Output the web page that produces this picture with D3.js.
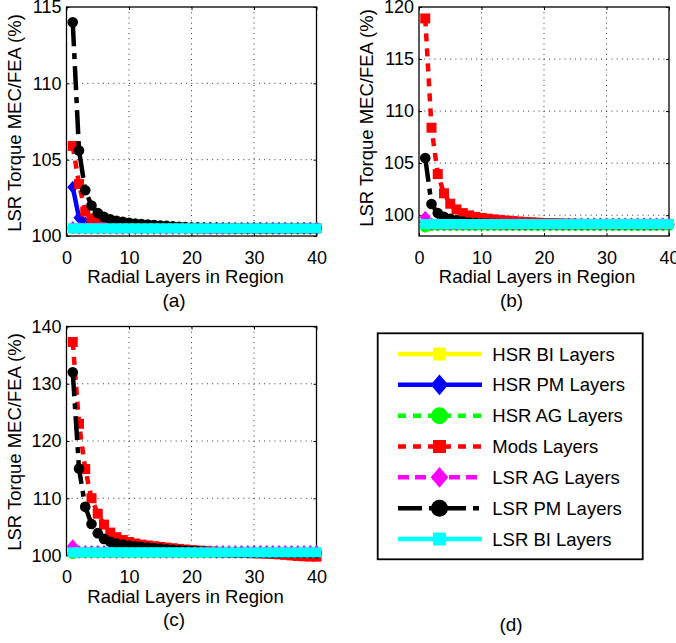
<!DOCTYPE html>
<html>
<head>
<meta charset="utf-8">
<script src="https://cdn.jsdelivr.net/npm/d3@7"></script>
<style>
  body { margin: 0; background: #fff; }
  text { font-family: "Liberation Sans", Arial, Helvetica, sans-serif; }
</style>
</head>
<body>
<div id="chart"></div>
<script>
// ---- data ----
const layers = [1, 2, 3, 4, 5, 6, 7, 8, 9, 10, 11, 12, 13, 14, 15, 16, 17, 18, 19, 20,
  21, 22, 23, 24, 25, 26, 27, 28, 29, 30, 31, 32, 33, 34, 35, 36, 37, 38, 39, 40];

const seriesNames = ['HSR BI Layers', 'HSR PM Layers', 'HSR AG Layers', 'Mods Layers',
  'LSR AG Layers', 'LSR PM Layers', 'LSR BI Layers'];

const xTicks = [0, 10, 20, 30, 40];
const yTicksA = [100, 105, 110, 115];
const yTicksB = [100, 105, 110, 115, 120];
const yTicksC = [100, 110, 120, 130, 140];

// panel (a)
const hsrBiA = [100.5, 100.5, 100.5, 100.5, 100.5, 100.5, 100.5, 100.5, 100.5, 100.5,
  100.5, 100.5, 100.5, 100.5, 100.5, 100.5, 100.5, 100.5, 100.5, 100.5,
  100.5, 100.5, 100.5, 100.5, 100.5, 100.5, 100.5, 100.5, 100.5, 100.5,
  100.5, 100.5, 100.5, 100.5, 100.5, 100.5, 100.5, 100.5, 100.5, 100.5];
const hsrPmA = [103.2, 101.2, 100.85, 100.7, 100.63, 100.59, 100.57, 100.55, 100.53, 100.52,
  100.51, 100.5, 100.5, 100.5, 100.5, 100.5, 100.5, 100.5, 100.5, 100.5,
  100.5, 100.5, 100.5, 100.5, 100.5, 100.5, 100.5, 100.5, 100.5, 100.5,
  100.5, 100.5, 100.5, 100.5, 100.5, 100.5, 100.5, 100.5, 100.5, 100.5];
const hsrAgA = [100.5, 100.5, 100.5, 100.5, 100.5, 100.5, 100.5, 100.5, 100.5, 100.5,
  100.5, 100.5, 100.5, 100.5, 100.5, 100.5, 100.5, 100.5, 100.5, 100.5,
  100.5, 100.5, 100.5, 100.5, 100.5, 100.5, 100.5, 100.5, 100.5, 100.5,
  100.5, 100.5, 100.5, 100.5, 100.5, 100.5, 100.5, 100.5, 100.5, 100.5];
const modsA = [105.9, 103.4, 101.6, 101.15, 100.95, 100.85, 100.78, 100.73, 100.69, 100.66,
  100.63, 100.61, 100.59, 100.58, 100.57, 100.56, 100.55, 100.54, 100.53, 100.52,
  100.51, 100.5, 100.5, 100.5, 100.5, 100.5, 100.5, 100.5, 100.5, 100.5,
  100.5, 100.5, 100.5, 100.5, 100.5, 100.5, 100.5, 100.5, 100.5, 100.5];
const lsrAgA = [100.55, 100.5, 100.5, 100.5, 100.5, 100.5, 100.5, 100.5, 100.5, 100.5,
  100.5, 100.5, 100.5, 100.5, 100.5, 100.5, 100.5, 100.5, 100.5, 100.5,
  100.5, 100.5, 100.5, 100.5, 100.5, 100.5, 100.5, 100.5, 100.5, 100.5,
  100.5, 100.5, 100.5, 100.5, 100.5, 100.5, 100.5, 100.5, 100.5, 100.5];
const lsrPmA = [114.0, 105.6, 103.0, 102.0, 101.5, 101.25, 101.1, 101.0, 100.93, 100.87,
  100.82, 100.78, 100.75, 100.72, 100.69, 100.66, 100.63, 100.6, 100.58, 100.56,
  100.55, 100.54, 100.53, 100.53, 100.52, 100.52, 100.51, 100.51, 100.5, 100.5,
  100.5, 100.5, 100.5, 100.5, 100.5, 100.5, 100.5, 100.5, 100.5, 100.5];
const lsrBiA = [100.5, 100.5, 100.5, 100.5, 100.5, 100.5, 100.5, 100.5, 100.5, 100.5,
  100.5, 100.5, 100.5, 100.5, 100.5, 100.5, 100.5, 100.5, 100.5, 100.5,
  100.5, 100.5, 100.5, 100.5, 100.5, 100.5, 100.5, 100.5, 100.5, 100.5,
  100.5, 100.5, 100.5, 100.5, 100.5, 100.5, 100.5, 100.5, 100.5, 100.5];

// panel (b)
const hsrBiB = [99.15, 99.15, 99.15, 99.15, 99.15, 99.15, 99.15, 99.15, 99.15, 99.15,
  99.15, 99.15, 99.15, 99.15, 99.15, 99.15, 99.15, 99.15, 99.15, 99.15,
  99.15, 99.15, 99.15, 99.15, 99.15, 99.15, 99.15, 99.15, 99.15, 99.15,
  99.15, 99.15, 99.15, 99.15, 99.15, 99.15, 99.15, 99.15, 99.15, 99.15];
const hsrPmB = [99.35, 99.1, 99.1, 99.1, 99.1, 99.1, 99.1, 99.1, 99.1, 99.1,
  99.1, 99.1, 99.1, 99.1, 99.1, 99.1, 99.1, 99.1, 99.1, 99.1,
  99.1, 99.1, 99.1, 99.1, 99.1, 99.1, 99.1, 99.1, 99.1, 99.1,
  99.1, 99.1, 99.1, 99.1, 99.1, 99.1, 99.1, 99.1, 99.1, 99.1];
const hsrAgB = [98.85, 99.0, 99.0, 99.0, 99.0, 99.0, 99.0, 99.0, 99.0, 99.0,
  99.0, 99.0, 99.0, 99.0, 99.0, 99.0, 99.0, 99.0, 99.0, 99.0,
  99.0, 99.0, 99.0, 99.0, 99.0, 99.0, 99.0, 99.0, 99.0, 99.0,
  99.0, 99.0, 99.0, 99.0, 99.0, 99.0, 99.0, 99.0, 99.0, 99.0];
const modsB = [118.9, 108.4, 103.95, 102.1, 101.1, 100.55, 100.2, 99.98, 99.84, 99.74,
  99.66, 99.59, 99.53, 99.48, 99.43, 99.39, 99.35, 99.31, 99.28, 99.25,
  99.23, 99.21, 99.19, 99.18, 99.17, 99.16, 99.15, 99.15, 99.15, 99.15,
  99.15, 99.15, 99.15, 99.15, 99.15, 99.15, 99.15, 99.15, 99.15, 99.15];
const lsrAgB = [99.8, 99.15, 99.15, 99.15, 99.15, 99.15, 99.15, 99.15, 99.15, 99.15,
  99.15, 99.15, 99.15, 99.15, 99.15, 99.15, 99.15, 99.15, 99.15, 99.15,
  99.15, 99.15, 99.15, 99.15, 99.15, 99.15, 99.15, 99.15, 99.15, 99.15,
  99.15, 99.15, 99.15, 99.15, 99.15, 99.15, 99.15, 99.15, 99.15, 99.15];
const lsrPmB = [105.5, 101.07, 100.2, 99.85, 99.65, 99.5, 99.38, 99.3, 99.25, 99.22,
  99.2, 99.18, 99.17, 99.16, 99.15, 99.15, 99.15, 99.15, 99.15, 99.15,
  99.15, 99.15, 99.15, 99.15, 99.15, 99.15, 99.15, 99.15, 99.15, 99.15,
  99.15, 99.15, 99.15, 99.15, 99.15, 99.15, 99.15, 99.15, 99.15, 99.15];
const lsrBiB = [99.15, 99.15, 99.15, 99.15, 99.15, 99.15, 99.15, 99.15, 99.15, 99.15,
  99.15, 99.15, 99.15, 99.15, 99.15, 99.15, 99.15, 99.15, 99.15, 99.15,
  99.15, 99.15, 99.15, 99.15, 99.15, 99.15, 99.15, 99.15, 99.15, 99.15,
  99.15, 99.15, 99.15, 99.15, 99.15, 99.15, 99.15, 99.15, 99.15, 99.15];

// panel (c)
const hsrBiC = [100.55, 100.55, 100.55, 100.55, 100.55, 100.55, 100.55, 100.55, 100.55, 100.55,
  100.55, 100.55, 100.55, 100.55, 100.55, 100.55, 100.55, 100.55, 100.55, 100.55,
  100.55, 100.55, 100.55, 100.55, 100.55, 100.55, 100.55, 100.55, 100.55, 100.55,
  100.55, 100.55, 100.55, 100.55, 100.55, 100.55, 100.55, 100.55, 100.55, 100.55];
const hsrPmC = [101.5, 100.55, 100.55, 100.55, 100.55, 100.55, 100.55, 100.55, 100.55, 100.55,
  100.55, 100.55, 100.55, 100.55, 100.55, 100.55, 100.55, 100.55, 100.55, 100.55,
  100.55, 100.55, 100.55, 100.55, 100.55, 100.55, 100.55, 100.55, 100.55, 100.55,
  100.55, 100.55, 100.55, 100.55, 100.55, 100.55, 100.55, 100.55, 100.55, 100.55];
const hsrAgC = [100.3, 100.5, 100.5, 100.5, 100.5, 100.5, 100.5, 100.5, 100.5, 100.5,
  100.5, 100.5, 100.5, 100.5, 100.5, 100.5, 100.5, 100.5, 100.5, 100.5,
  100.5, 100.5, 100.5, 100.5, 100.5, 100.5, 100.5, 100.5, 100.5, 100.5,
  100.5, 100.5, 100.5, 100.5, 100.5, 100.5, 100.5, 100.5, 100.5, 100.5];
const modsC = [137.3, 123.0, 115.1, 110.0, 107.3, 105.4, 104.0, 103.2, 102.7, 102.35,
  102.1, 101.9, 101.75, 101.62, 101.5, 101.38, 101.26, 101.15, 101.05, 100.95,
  100.86, 100.78, 100.7, 100.64, 100.58, 100.53, 100.49, 100.45, 100.42, 100.39,
  100.36, 100.32, 100.27, 100.2, 100.12, 100.02, 99.92, 99.86, 99.82, 99.8];
const lsrAgC = [101.7, 100.7, 100.7, 100.7, 100.7, 100.7, 100.7, 100.7, 100.7, 100.7,
  100.7, 100.7, 100.7, 100.7, 100.7, 100.7, 100.7, 100.7, 100.7, 100.7,
  100.7, 100.7, 100.7, 100.7, 100.7, 100.7, 100.7, 100.7, 100.7, 100.7,
  100.7, 100.7, 100.7, 100.7, 100.7, 100.7, 100.7, 100.7, 100.7, 100.7];
const lsrPmC = [132.0, 115.2, 108.5, 105.5, 103.9, 102.9, 102.4, 102.1, 101.9, 101.75,
  101.62, 101.5, 101.4, 101.3, 101.2, 101.1, 101.0, 100.92, 100.85, 100.78,
  100.72, 100.67, 100.62, 100.58, 100.55, 100.53, 100.51, 100.5, 100.49, 100.48,
  100.47, 100.46, 100.45, 100.45, 100.44, 100.44, 100.43, 100.43, 100.42, 100.42];
const lsrBiC = [100.55, 100.55, 100.55, 100.55, 100.55, 100.55, 100.55, 100.55, 100.55, 100.55,
  100.55, 100.55, 100.55, 100.55, 100.55, 100.55, 100.55, 100.55, 100.55, 100.55,
  100.55, 100.55, 100.55, 100.55, 100.55, 100.55, 100.55, 100.55, 100.55, 100.55,
  100.55, 100.55, 100.55, 100.55, 100.55, 100.55, 100.55, 100.55, 100.55, 100.55];

// ---- styles ----
const styles = {
  'HSR BI Layers': { color: '#ffff00', dash: null, marker: 'square' },
  'HSR PM Layers': { color: '#0000ff', dash: null, marker: 'diamond' },
  'HSR AG Layers': { color: '#00ff00', dash: '8,7', marker: 'circle' },
  'Mods Layers': { color: '#ff0000', dash: '8,7', marker: 'square' },
  'LSR AG Layers': { color: '#ff00ff', dash: '11,6', marker: 'diamond' },
  'LSR PM Layers': { color: '#000000', dash: '24,7,6,7', marker: 'circle' },
  'LSR BI Layers': { color: '#00ffff', dash: null, marker: 'square' }
};

const fontSans = '"Liberation Sans", Arial, Helvetica, sans-serif';
const fontSerif = '"Liberation Serif", "Times New Roman", serif';

function markerPath(type, s) {
  if (type === 'square') {
    const h = s / 2;
    return `M${-h},${-h}h${s}v${s}h${-s}Z`;
  }
  if (type === 'diamond') {
    const w = s * 0.55, h = s * 0.65;
    return `M0,${-h}L${w},0L0,${h}L${-w},0Z`;
  }
  const r = s * 0.53;
  return `M${r},0A${r},${r} 0 1,1 ${-r},0A${r},${r} 0 1,1 ${r},0Z`;
}

const width = 676, height = 643;
const svg = d3.select('#chart').append('svg')
  .attr('width', width)
  .attr('height', height);
svg.append('rect').attr('width', width).attr('height', height).attr('fill', '#fff');

const panels = [
  {
    left: 66.5, right: 316.5, top: 7, bottom: 236,
    yDomain: [100, 115], yTicks: yTicksA,
    series: [hsrBiA, hsrPmA, hsrAgA, modsA, lsrAgA, lsrPmA, lsrBiA],
    yTitle: [21, 123], xTitle: [185.5, 283], caption: ['(a)', 174, 307]
  },
  {
    left: 419, right: 669, top: 7, bottom: 236,
    yDomain: [98, 120], yTicks: yTicksB,
    series: [hsrBiB, hsrPmB, hsrAgB, modsB, lsrAgB, lsrPmB, lsrBiB],
    yTitle: [373, 118], xTitle: [537, 283], caption: ['(b)', 511.5, 307]
  },
  {
    left: 66.5, right: 316.5, top: 326.5, bottom: 555.5,
    yDomain: [100, 140], yTicks: yTicksC,
    series: [hsrBiC, hsrPmC, hsrAgC, modsC, lsrAgC, lsrPmC, lsrBiC],
    yTitle: [21, 442], xTitle: [185.5, 603], caption: ['(c)', 174, 626]
  }
];

panels.forEach(p => drawPanel(p));

function drawPanel(p) {
  const x = d3.scaleLinear().domain([0, 40]).range([p.left, p.right]);
  const y = d3.scaleLinear().domain(p.yDomain).range([p.bottom, p.top]);
  const g = svg.append('g');

  // dotted grid
  const grid = g.append('g')
    .attr('stroke', '#333')
    .attr('stroke-width', 1)
    .attr('stroke-dasharray', '1,4.2');
  xTicks.filter(t => t > 0 && t < 40).forEach(t => {
    grid.append('line')
      .attr('x1', x(t)).attr('x2', x(t))
      .attr('y1', p.top).attr('y2', p.bottom);
  });
  p.yTicks.filter(t => y(t) > p.top + 1 && y(t) < p.bottom - 1).forEach(t => {
    grid.append('line')
      .attr('x1', p.left).attr('x2', p.right)
      .attr('y1', y(t)).attr('y2', y(t));
  });

  // axes with inward ticks
  const bottomAxis = g.append('g')
    .attr('transform', `translate(0,${p.bottom})`)
    .call(d3.axisBottom(x).tickValues(xTicks).tickSize(-3).tickPadding(15).tickFormat(d3.format('d')));
  const leftAxis = g.append('g')
    .attr('transform', `translate(${p.left},0)`)
    .call(d3.axisLeft(y).tickValues(p.yTicks).tickSize(-3).tickPadding(5).tickFormat(d3.format('d')));
  g.append('g')
    .attr('transform', `translate(0,${p.top})`)
    .call(d3.axisTop(x).tickValues(xTicks).tickSize(-3).tickFormat(''));
  g.append('g')
    .attr('transform', `translate(${p.right},0)`)
    .call(d3.axisRight(y).tickValues(p.yTicks).tickSize(-3).tickFormat(''));
  g.selectAll('.domain').remove();
  g.selectAll('.tick line').attr('stroke', '#000').attr('stroke-width', 1);
  [bottomAxis, leftAxis].forEach(a => a
    .attr('font-size', 18)
    .attr('font-family', fontSans)
    .selectAll('text').attr('fill', '#000'));

  g.append('rect')
    .attr('x', p.left).attr('y', p.top)
    .attr('width', p.right - p.left).attr('height', p.bottom - p.top)
    .attr('fill', 'none')
    .attr('stroke', '#000')
    .attr('stroke-width', 1.3);

  // series
  const line = d3.line()
    .x((d, i) => x(layers[i]))
    .y(d => y(d));

  seriesNames.forEach((name, k) => {
    const st = styles[name];
    const values = p.series[k];
    const sg = g.append('g').attr('class', 'series');
    sg.append('path')
      .attr('d', line(values))
      .attr('fill', 'none')
      .attr('stroke', st.color)
      .attr('stroke-width', 4.5)
      .attr('stroke-dasharray', st.dash)
      .attr('stroke-linejoin', 'round');
    sg.selectAll('path.marker')
      .data(values)
      .join('path')
      .attr('class', 'marker')
      .attr('transform', (d, i) => `translate(${x(layers[i])},${y(d)})`)
      .attr('d', markerPath(st.marker, 10))
      .attr('fill', st.color);
  });

  // titles
  g.append('text')
    .attr('transform', `translate(${p.yTitle[0]},${p.yTitle[1]}) rotate(-90)`)
    .attr('text-anchor', 'middle')
    .attr('font-size', 18.5)
    .attr('font-family', fontSans)
    .text('LSR Torque MEC/FEA (%)');
  g.append('text')
    .attr('x', p.xTitle[0]).attr('y', p.xTitle[1])
    .attr('text-anchor', 'middle')
    .attr('font-size', 18.5)
    .attr('font-family', fontSans)
    .text('Radial Layers in Region');
  g.append('text')
    .attr('x', p.caption[1]).attr('y', p.caption[2])
    .attr('text-anchor', 'middle')
    .attr('font-size', 19)
    .attr('font-family', fontSerif)
    .text(p.caption[0]);
}

// ---- legend (d) ----
const legend = svg.append('g');
legend.append('rect')
  .attr('x', 377.7).attr('y', 333.3)
  .attr('width', 265).attr('height', 226)
  .attr('fill', '#fff')
  .attr('stroke', '#000')
  .attr('stroke-width', 1.8);

const legendY = d3.scalePoint().domain(seriesNames).range([354, 539]);

seriesNames.forEach(name => {
  const st = styles[name];
  const yy = legendY(name);
  legend.append('line')
    .attr('x1', 398).attr('x2', 482)
    .attr('y1', yy).attr('y2', yy)
    .attr('stroke', st.color)
    .attr('stroke-width', 4.5)
    .attr('stroke-dasharray', st.dash);
  legend.append('path')
    .attr('transform', `translate(439.5,${yy})`)
    .attr('d', markerPath(st.marker, st.marker === 'square' ? 13 : 16))
    .attr('fill', st.color);
  legend.append('text')
    .attr('x', 492.3).attr('y', yy)
    .attr('dy', '0.36em')
    .attr('font-size', 18.5)
    .attr('font-family', fontSans)
    .text(name);
});

svg.append('text')
  .attr('x', 511).attr('y', 631)
  .attr('text-anchor', 'middle')
  .attr('font-size', 19)
  .attr('font-family', fontSerif)
  .text('(d)');
</script>
</body>
</html>
